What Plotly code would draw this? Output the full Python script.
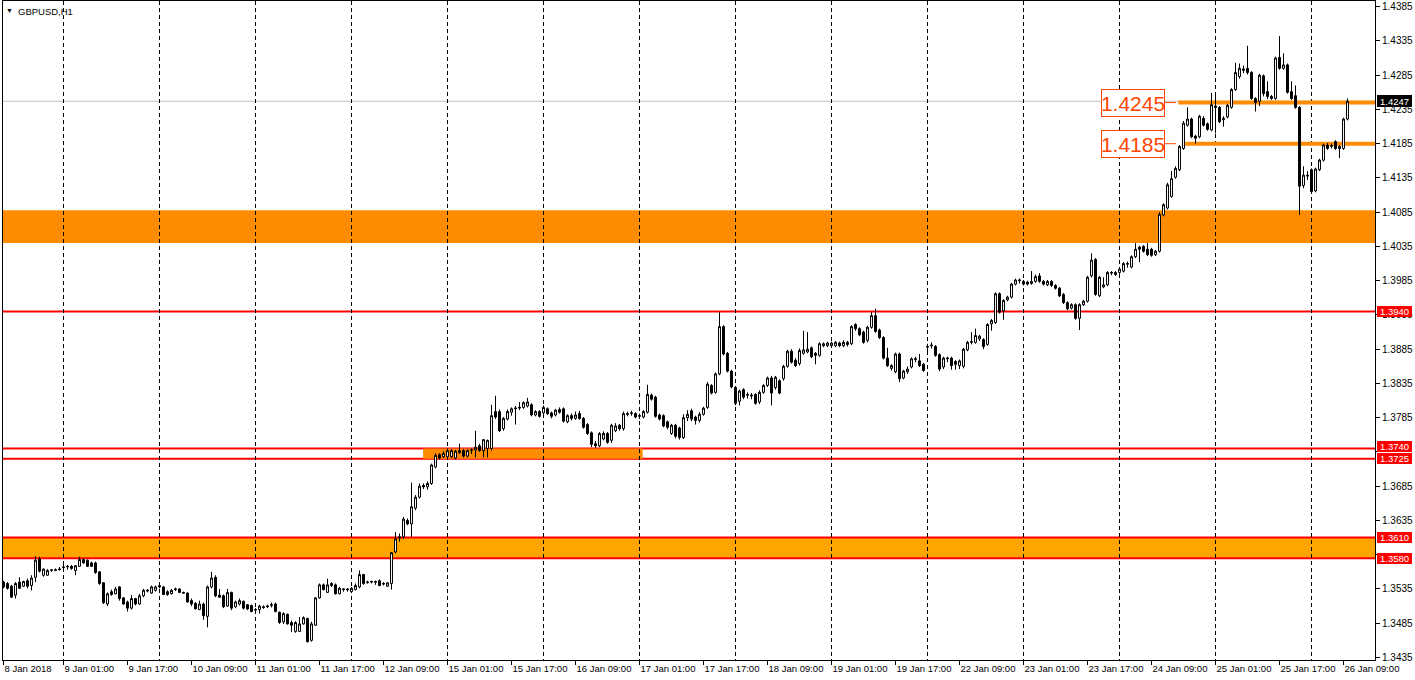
import plotly.graph_objects as go

# ---------------- data ----------------
opens = [
    1.3545, 1.3543, 1.3539, 1.3526, 1.3545, 1.3539, 1.3547, 1.3540, 1.3552, 1.3579,
    1.3555, 1.3555, 1.3562, 1.3562, 1.3563, 1.3566, 1.3567, 1.3568, 1.3562, 1.3568,
    1.3578, 1.3577, 1.3573, 1.3573, 1.3560, 1.3544, 1.3513, 1.3531, 1.3528, 1.3538,
    1.3522, 1.3516, 1.3507, 1.3521, 1.3513, 1.3525, 1.3532, 1.3529, 1.3533, 1.3540,
    1.3538, 1.3531, 1.3528, 1.3534, 1.3535, 1.3530, 1.3529, 1.3518, 1.3514, 1.3505,
    1.3513, 1.3495, 1.3538, 1.3552, 1.3526, 1.3525, 1.3510, 1.3530, 1.3509, 1.3513,
    1.3517, 1.3512, 1.3511, 1.3504, 1.3505, 1.3509, 1.3509, 1.3511, 1.3513, 1.3501,
    1.3487, 1.3498, 1.3486, 1.3473, 1.3473, 1.3484, 1.3492, 1.3460, 1.3482, 1.3522,
    1.3541, 1.3530, 1.3540, 1.3541, 1.3528, 1.3534, 1.3535, 1.3531, 1.3534, 1.3538,
    1.3556, 1.3544, 1.3545, 1.3546, 1.3547, 1.3542, 1.3539, 1.3543, 1.3589, 1.3609,
    1.3611, 1.3635, 1.3630, 1.3653, 1.3669, 1.3686, 1.3684, 1.3689, 1.3713, 1.3731,
    1.3728, 1.3728, 1.3728, 1.3726, 1.3734, 1.3737, 1.3729, 1.3737, 1.3738, 1.3744,
    1.3737, 1.3740, 1.3740, 1.3794, 1.3794, 1.3769, 1.3783, 1.3793, 1.3798, 1.3799,
    1.3800, 1.3802, 1.3804, 1.3789, 1.3794, 1.3792, 1.3798, 1.3792, 1.3789, 1.3797,
    1.3798, 1.3779, 1.3788, 1.3784, 1.3791, 1.3784, 1.3775, 1.3763, 1.3747, 1.3744,
    1.3754, 1.3762, 1.3752, 1.3766, 1.3774, 1.3769, 1.3791, 1.3791, 1.3791, 1.3787,
    1.3786, 1.3793, 1.3818, 1.3815, 1.3789, 1.3788, 1.3779, 1.3762, 1.3774, 1.3770,
    1.3756, 1.3785, 1.3795, 1.3786, 1.3781, 1.3790, 1.3800, 1.3832, 1.3822, 1.3849,
    1.3918, 1.3879, 1.3853, 1.3829, 1.3809, 1.3826, 1.3819, 1.3818, 1.3819, 1.3808,
    1.3822, 1.3832, 1.3843, 1.3829, 1.3839, 1.3842, 1.3860, 1.3882, 1.3869, 1.3864,
    1.3879, 1.3881, 1.3887, 1.3879, 1.3876, 1.3890, 1.3890, 1.3890, 1.3890, 1.3894,
    1.3890, 1.3895, 1.3893, 1.3921, 1.3915, 1.3910, 1.3898, 1.3917, 1.3934, 1.3913,
    1.3902, 1.3872, 1.3857, 1.3852, 1.3878, 1.3843, 1.3852, 1.3859, 1.3870, 1.3868,
    1.3863, 1.3888, 1.3890, 1.3889, 1.3877, 1.3859, 1.3871, 1.3872, 1.3867, 1.3861,
    1.3860, 1.3884, 1.3895, 1.3895, 1.3900, 1.3899, 1.3892, 1.3922, 1.3924, 1.3966,
    1.3941, 1.3957, 1.3961, 1.3980, 1.3985, 1.3984, 1.3983, 1.3981, 1.3984, 1.3992,
    1.3984, 1.3979, 1.3984, 1.3978, 1.3974, 1.3965, 1.3953, 1.3945, 1.3950, 1.3930,
    1.3950, 1.3955, 1.3992, 1.4016, 1.3963, 1.3976, 1.3979, 1.3996, 1.3994, 1.3997,
    1.3999, 1.4009, 1.4005, 1.4020, 1.4034, 1.4035, 1.4031, 1.4031, 1.4023, 1.4028,
    1.4081, 1.4091, 1.4108, 1.4136, 1.4147, 1.4178, 1.4212, 1.4221, 1.4196, 1.4195,
    1.4222, 1.4214, 1.4205, 1.4240, 1.4238, 1.4220, 1.4224, 1.4238, 1.4264, 1.4283,
    1.4292, 1.4295, 1.4289, 1.4251, 1.4247, 1.4284, 1.4261, 1.4254, 1.4251, 1.4311,
    1.4295, 1.4300, 1.4261, 1.4255, 1.4238, 1.4124, 1.4139, 1.4147, 1.4116, 1.4147,
    1.4161, 1.4183, 1.4181, 1.4188, 1.4178, 1.4178, 1.4221,
]
highs = [
    1.3547, 1.3545, 1.3541, 1.3545, 1.3552, 1.3547, 1.3550, 1.3555, 1.3583, 1.3582,
    1.3565, 1.3564, 1.3564, 1.3565, 1.3567, 1.3570, 1.3570, 1.3570, 1.3570, 1.3582,
    1.3580, 1.3578, 1.3575, 1.3575, 1.3561, 1.3545, 1.3530, 1.3534, 1.3538, 1.3539,
    1.3523, 1.3518, 1.3526, 1.3522, 1.3528, 1.3535, 1.3535, 1.3540, 1.3540, 1.3542,
    1.3539, 1.3533, 1.3535, 1.3537, 1.3536, 1.3531, 1.3530, 1.3521, 1.3516, 1.3518,
    1.3515, 1.3540, 1.3560, 1.3555, 1.3535, 1.3527, 1.3535, 1.3531, 1.3518, 1.3521,
    1.3518, 1.3513, 1.3512, 1.3507, 1.3512, 1.3511, 1.3512, 1.3515, 1.3515, 1.3502,
    1.3501, 1.3499, 1.3489, 1.3488, 1.3494, 1.3495, 1.3493, 1.3487, 1.3523, 1.3543,
    1.3543, 1.3550, 1.3545, 1.3543, 1.3538, 1.3536, 1.3536, 1.3538, 1.3543, 1.3562,
    1.3557, 1.3547, 1.3547, 1.3547, 1.3549, 1.3545, 1.3545, 1.3589, 1.3618, 1.3616,
    1.3640, 1.3638, 1.3690, 1.3672, 1.3689, 1.3689, 1.3692, 1.3718, 1.3733, 1.3733,
    1.3736, 1.3740, 1.3739, 1.3738, 1.3747, 1.3739, 1.3739, 1.3740, 1.3766, 1.3747,
    1.3754, 1.3753, 1.3804, 1.3817, 1.3797, 1.3786, 1.3797, 1.3800, 1.3802, 1.3808,
    1.3809, 1.3814, 1.3806, 1.3796, 1.3796, 1.3803, 1.3800, 1.3794, 1.3798, 1.3800,
    1.3800, 1.3790, 1.3791, 1.3794, 1.3795, 1.3786, 1.3777, 1.3765, 1.3751, 1.3764,
    1.3765, 1.3764, 1.3776, 1.3777, 1.3776, 1.3794, 1.3794, 1.3795, 1.3793, 1.3791,
    1.3796, 1.3833, 1.3820, 1.3817, 1.3791, 1.3790, 1.3781, 1.3776, 1.3776, 1.3772,
    1.3790, 1.3796, 1.3798, 1.3788, 1.3793, 1.3801, 1.3837, 1.3834, 1.3851, 1.3939,
    1.3920, 1.3881, 1.3855, 1.3831, 1.3826, 1.3828, 1.3822, 1.3821, 1.3821, 1.3825,
    1.3834, 1.3845, 1.3846, 1.3846, 1.3841, 1.3862, 1.3884, 1.3885, 1.3872, 1.3886,
    1.3912, 1.3910, 1.3889, 1.3881, 1.3895, 1.3895, 1.3896, 1.3896, 1.3897, 1.3896,
    1.3898, 1.3897, 1.3920, 1.3923, 1.3917, 1.3912, 1.3919, 1.3939, 1.3944, 1.3915,
    1.3904, 1.3887, 1.3863, 1.3880, 1.3880, 1.3855, 1.3860, 1.3873, 1.3874, 1.3878,
    1.3865, 1.3893, 1.3895, 1.3891, 1.3879, 1.3874, 1.3874, 1.3874, 1.3869, 1.3870,
    1.3887, 1.3897, 1.3910, 1.3915, 1.3906, 1.3901, 1.3923, 1.3929, 1.3968, 1.3968,
    1.3958, 1.3963, 1.3982, 1.3988, 1.3988, 1.3986, 1.3985, 1.3999, 1.3994, 1.3996,
    1.3986, 1.3986, 1.3986, 1.3980, 1.3976, 1.3967, 1.3955, 1.3952, 1.3952, 1.3952,
    1.3957, 1.3992, 1.4025, 1.4018, 1.3992, 1.3990, 1.3999, 1.3999, 1.3999, 1.4004,
    1.4012, 1.4013, 1.4022, 1.4040, 1.4036, 1.4037, 1.4040, 1.4033, 1.4030, 1.4085,
    1.4098, 1.4128, 1.4145, 1.4152, 1.4183, 1.4218, 1.4238, 1.4223, 1.4198, 1.4227,
    1.4225, 1.4216, 1.4259, 1.4259, 1.4240, 1.4225, 1.4243, 1.4266, 1.4303, 1.4302,
    1.4299, 1.4328, 1.4291, 1.4253, 1.4287, 1.4286, 1.4276, 1.4256, 1.4312, 1.4342,
    1.4317, 1.4302, 1.4276, 1.4270, 1.4240, 1.4152, 1.4145, 1.4149, 1.4150, 1.4163,
    1.4185, 1.4186, 1.4185, 1.4190, 1.4183, 1.4223, 1.4251,
]
lows = [
    1.3536, 1.3534, 1.3522, 1.3521, 1.3535, 1.3538, 1.3536, 1.3533, 1.3545, 1.3559,
    1.3553, 1.3554, 1.3560, 1.3561, 1.3562, 1.3564, 1.3563, 1.3563, 1.3555, 1.3567,
    1.3572, 1.3567, 1.3567, 1.3557, 1.3541, 1.3513, 1.3510, 1.3525, 1.3527, 1.3518,
    1.3512, 1.3502, 1.3505, 1.3511, 1.3512, 1.3523, 1.3530, 1.3528, 1.3531, 1.3536,
    1.3526, 1.3525, 1.3527, 1.3532, 1.3529, 1.3528, 1.3515, 1.3510, 1.3505, 1.3504,
    1.3490, 1.3479, 1.3536, 1.3523, 1.3522, 1.3507, 1.3509, 1.3504, 1.3507, 1.3511,
    1.3505, 1.3504, 1.3501, 1.3502, 1.3499, 1.3506, 1.3507, 1.3508, 1.3501, 1.3484,
    1.3484, 1.3483, 1.3472, 1.3471, 1.3472, 1.3483, 1.3457, 1.3458, 1.3481, 1.3521,
    1.3533, 1.3529, 1.3538, 1.3527, 1.3527, 1.3531, 1.3531, 1.3529, 1.3533, 1.3536,
    1.3541, 1.3543, 1.3543, 1.3541, 1.3539, 1.3540, 1.3538, 1.3534, 1.3587, 1.3604,
    1.3608, 1.3628, 1.3611, 1.3650, 1.3667, 1.3681, 1.3680, 1.3687, 1.3711, 1.3724,
    1.3726, 1.3725, 1.3726, 1.3724, 1.3732, 1.3727, 1.3727, 1.3732, 1.3727, 1.3735,
    1.3727, 1.3727, 1.3737, 1.3783, 1.3764, 1.3766, 1.3781, 1.3788, 1.3775, 1.3796,
    1.3798, 1.3800, 1.3787, 1.3787, 1.3785, 1.3790, 1.3789, 1.3784, 1.3787, 1.3791,
    1.3778, 1.3777, 1.3781, 1.3782, 1.3782, 1.3769, 1.3760, 1.3742, 1.3741, 1.3742,
    1.3752, 1.3747, 1.3748, 1.3764, 1.3766, 1.3766, 1.3787, 1.3788, 1.3784, 1.3783,
    1.3784, 1.3791, 1.3810, 1.3785, 1.3781, 1.3771, 1.3768, 1.3760, 1.3755, 1.3753,
    1.3754, 1.3780, 1.3780, 1.3775, 1.3778, 1.3788, 1.3798, 1.3819, 1.3820, 1.3847,
    1.3876, 1.3851, 1.3828, 1.3803, 1.3803, 1.3812, 1.3813, 1.3812, 1.3804, 1.3805,
    1.3820, 1.3830, 1.3803, 1.3826, 1.3819, 1.3839, 1.3858, 1.3864, 1.3859, 1.3861,
    1.3877, 1.3879, 1.3872, 1.3863, 1.3874, 1.3888, 1.3888, 1.3888, 1.3888, 1.3888,
    1.3888, 1.3889, 1.3891, 1.3912, 1.3904, 1.3893, 1.3895, 1.3915, 1.3909, 1.3900,
    1.3870, 1.3859, 1.3854, 1.3850, 1.3837, 1.3841, 1.3849, 1.3857, 1.3866, 1.3859,
    1.3852, 1.3882, 1.3886, 1.3874, 1.3853, 1.3856, 1.3866, 1.3855, 1.3855, 1.3856,
    1.3857, 1.3882, 1.3892, 1.3893, 1.3897, 1.3885, 1.3890, 1.3912, 1.3922, 1.3937,
    1.3928, 1.3955, 1.3959, 1.3978, 1.3981, 1.3978, 1.3978, 1.3979, 1.3982, 1.3982,
    1.3978, 1.3977, 1.3976, 1.3972, 1.3961, 1.3951, 1.3942, 1.3943, 1.3928, 1.3913,
    1.3948, 1.3953, 1.3990, 1.3963, 1.3961, 1.3974, 1.3977, 1.3993, 1.3992, 1.3995,
    1.3997, 1.4004, 1.4003, 1.4018, 1.4012, 1.4026, 1.4021, 1.4020, 1.4021, 1.4026,
    1.4079, 1.4089, 1.4106, 1.4134, 1.4145, 1.4176, 1.4210, 1.4193, 1.4185, 1.4193,
    1.4210, 1.4204, 1.4203, 1.4200, 1.4215, 1.4210, 1.4222, 1.4236, 1.4262, 1.4280,
    1.4288, 1.4286, 1.4249, 1.4232, 1.4240, 1.4254, 1.4250, 1.4249, 1.4249, 1.4293,
    1.4293, 1.4258, 1.4249, 1.4236, 1.4081, 1.4120, 1.4132, 1.4113, 1.4114, 1.4145,
    1.4159, 1.4176, 1.4178, 1.4176, 1.4164, 1.4176, 1.4219,
]
closes = [
    1.3538, 1.3536, 1.3523, 1.3543, 1.3536, 1.3546, 1.3539, 1.3551, 1.3577, 1.3561,
    1.3564, 1.3562, 1.3563, 1.3563, 1.3564, 1.3567, 1.3568, 1.3565, 1.3569, 1.3578,
    1.3573, 1.3568, 1.3568, 1.3559, 1.3543, 1.3515, 1.3528, 1.3527, 1.3535, 1.3521,
    1.3513, 1.3507, 1.3521, 1.3513, 1.3525, 1.3533, 1.3533, 1.3538, 1.3538, 1.3538,
    1.3527, 1.3527, 1.3533, 1.3535, 1.3530, 1.3529, 1.3516, 1.3513, 1.3506, 1.3513,
    1.3496, 1.3538, 1.3551, 1.3525, 1.3523, 1.3509, 1.3530, 1.3507, 1.3516, 1.3518,
    1.3507, 1.3506, 1.3502, 1.3505, 1.3510, 1.3508, 1.3510, 1.3512, 1.3502, 1.3486,
    1.3499, 1.3484, 1.3482, 1.3486, 1.3484, 1.3493, 1.3458, 1.3484, 1.3522, 1.3541,
    1.3534, 1.3541, 1.3543, 1.3528, 1.3536, 1.3535, 1.3534, 1.3536, 1.3540, 1.3556,
    1.3543, 1.3545, 1.3546, 1.3545, 1.3540, 1.3543, 1.3544, 1.3588, 1.3608, 1.3611,
    1.3637, 1.3630, 1.3655, 1.3669, 1.3685, 1.3684, 1.3689, 1.3716, 1.3730, 1.3726,
    1.3733, 1.3737, 1.3737, 1.3736, 1.3737, 1.3729, 1.3737, 1.3738, 1.3742, 1.3737,
    1.3753, 1.3752, 1.3788, 1.3786, 1.3766, 1.3784, 1.3794, 1.3798, 1.3799, 1.3800,
    1.3807, 1.3808, 1.3789, 1.3794, 1.3787, 1.3800, 1.3791, 1.3787, 1.3796, 1.3793,
    1.3780, 1.3788, 1.3784, 1.3789, 1.3784, 1.3771, 1.3762, 1.3746, 1.3744, 1.3762,
    1.3762, 1.3749, 1.3774, 1.3773, 1.3769, 1.3791, 1.3790, 1.3792, 1.3786, 1.3788,
    1.3794, 1.3819, 1.3812, 1.3787, 1.3783, 1.3773, 1.3771, 1.3774, 1.3758, 1.3756,
    1.3785, 1.3790, 1.3783, 1.3781, 1.3790, 1.3799, 1.3834, 1.3821, 1.3849, 1.3918,
    1.3878, 1.3853, 1.3830, 1.3806, 1.3824, 1.3815, 1.3818, 1.3817, 1.3806, 1.3822,
    1.3832, 1.3843, 1.3821, 1.3844, 1.3821, 1.3860, 1.3882, 1.3866, 1.3861, 1.3883,
    1.3884, 1.3885, 1.3874, 1.3876, 1.3893, 1.3893, 1.3894, 1.3894, 1.3895, 1.3890,
    1.3895, 1.3892, 1.3918, 1.3915, 1.3906, 1.3895, 1.3917, 1.3934, 1.3911, 1.3902,
    1.3872, 1.3861, 1.3861, 1.3878, 1.3842, 1.3853, 1.3856, 1.3871, 1.3871, 1.3861,
    1.3854, 1.3889, 1.3891, 1.3876, 1.3856, 1.3872, 1.3872, 1.3861, 1.3863, 1.3868,
    1.3885, 1.3895, 1.3896, 1.3905, 1.3904, 1.3889, 1.3921, 1.3927, 1.3966, 1.3939,
    1.3956, 1.3961, 1.3980, 1.3986, 1.3986, 1.3980, 1.3980, 1.3984, 1.3991, 1.3984,
    1.3980, 1.3984, 1.3978, 1.3974, 1.3963, 1.3953, 1.3944, 1.3950, 1.3930, 1.3950,
    1.3955, 1.3990, 1.4015, 1.3965, 1.3990, 1.3979, 1.3997, 1.3997, 1.3997, 1.4002,
    1.4010, 1.4010, 1.4020, 1.4031, 1.4031, 1.4028, 1.4023, 1.4022, 1.4028, 1.4082,
    1.4096, 1.4125, 1.4134, 1.4149, 1.4181, 1.4215, 1.4221, 1.4195, 1.4193, 1.4225,
    1.4212, 1.4206, 1.4242, 1.4238, 1.4217, 1.4222, 1.4241, 1.4264, 1.4289, 1.4295,
    1.4294, 1.4289, 1.4251, 1.4245, 1.4285, 1.4258, 1.4254, 1.4251, 1.4310, 1.4295,
    1.4300, 1.4260, 1.4251, 1.4238, 1.4123, 1.4139, 1.4138, 1.4115, 1.4148, 1.4161,
    1.4183, 1.4178, 1.4182, 1.4178, 1.4181, 1.4221, 1.4247,
]
bars = list(range(len(opens)))

time_labels = ["8 Jan 2018", "9 Jan 01:00", "9 Jan 17:00", "10 Jan 09:00", "11 Jan 01:00",
               "11 Jan 17:00", "12 Jan 09:00", "15 Jan 01:00", "15 Jan 17:00", "16 Jan 09:00",
               "17 Jan 01:00", "17 Jan 17:00", "18 Jan 09:00", "19 Jan 01:00", "19 Jan 17:00",
               "22 Jan 09:00", "23 Jan 01:00", "23 Jan 17:00", "24 Jan 09:00", "25 Jan 01:00",
               "25 Jan 17:00", "26 Jan 09:00"]
time_label_bars = [0, 15, 31, 47, 63, 79, 95, 111, 127, 143, 159, 175, 191, 207, 223,
                   239, 255, 271, 287, 303, 319, 335]
grid_bars = [15, 39, 63, 87, 111, 135, 159, 183, 207, 231, 255, 279, 303, 327]

price_ticks = [1.4385, 1.4335, 1.4285, 1.4235, 1.4185, 1.4135, 1.4085, 1.4035, 1.3985,
               1.3935, 1.3885, 1.3835, 1.3785, 1.3735, 1.3685, 1.3635, 1.3585, 1.3535,
               1.3485, 1.3435]
# ticks whose labels are hidden behind the level tags in the reference
hidden_price_ticks = [1.3735, 1.3585]

red_levels = [1.3940, 1.3740, 1.3725, 1.3610, 1.3580]
red_tag_nudge = [0, 2, 0, 0, 0]
supply_zone = [1.4040, 1.4088]
demand_zone = [1.3580, 1.3610]
box_bars = [104.9, 159.8]
box_prices = [1.3725, 1.3740]
marked_levels = [1.4245, 1.4185]
marked_start_bars = [293.7, 295.4]
bid_price = 1.4247

x_range = [-0.125, 342.875]
y_range = [1.34313, 1.43933]

ORANGE = "#FF8C00"
LIGHT_ORANGE = "#FFA500"
LABEL_RED = "#FF4500"
FONT = "Liberation Sans, Arial, sans-serif"

fig = go.Figure()
fig.add_trace(go.Candlestick(
    x=bars, open=opens, high=highs, low=lows, close=closes,
    increasing=dict(line=dict(color="black", width=1), fillcolor="white"),
    decreasing=dict(line=dict(color="black", width=1), fillcolor="black"),
    whiskerwidth=0, showlegend=False, hoverinfo="skip",
))

shapes = []
shapes.append(dict(type="rect", xref="paper", yref="y", x0=0, x1=1,
                   y0=supply_zone[0], y1=supply_zone[1],
                   fillcolor=ORANGE, line=dict(width=0), layer="below"))
shapes.append(dict(type="rect", xref="paper", yref="y", x0=0, x1=1,
                   y0=demand_zone[0], y1=demand_zone[1],
                   fillcolor=LIGHT_ORANGE, line=dict(width=0), layer="below"))
shapes.append(dict(type="rect", xref="x", yref="y", x0=box_bars[0], x1=box_bars[1],
                   y0=box_prices[0], y1=box_prices[1],
                   fillcolor=ORANGE, line=dict(width=0), layer="below"))
shapes.append(dict(type="line", xref="paper", yref="y", x0=0, x1=1, y0=bid_price, y1=bid_price,
                   line=dict(color="#C0C0C0", width=1), layer="between"))
for lv in red_levels:
    shapes.append(dict(type="line", xref="paper", yref="y", x0=0, x1=1, y0=lv, y1=lv,
                       line=dict(color="#FF0000", width=2), layer="between"))
for lv, st in zip(marked_levels, marked_start_bars):
    shapes.append(dict(type="line", xref="x", yref="y", x0=st, x1=x_range[1], y0=lv, y1=lv,
                       line=dict(color=ORANGE, width=4), layer="between"))

annotations = []
annotations.append(dict(xref="paper", yref="paper", x=0, y=1, xanchor="left", yanchor="top",
                        xshift=1, yshift=-4, text="▼", showarrow=False,
                        font=dict(family=FONT, size=7, color="black")))
annotations.append(dict(xref="paper", yref="paper", x=0, y=1, xanchor="left", yanchor="top",
                        xshift=13, yshift=-3, text="GBPUSD,H1", showarrow=False,
                        font=dict(family=FONT, size=9.5, color="black")))
for lv, nudge in zip(red_levels, red_tag_nudge):
    annotations.append(dict(xref="paper", yref="y", x=1, y=lv, xanchor="left", yanchor="middle",
                            xshift=2, yshift=nudge, text=f"{lv:.4f}", showarrow=False,
                            bgcolor="#FF0000", width=35, height=11, borderpad=0, borderwidth=0,
                            font=dict(family=FONT, size=9.5, color="white")))
annotations.append(dict(xref="paper", yref="y", x=1, y=bid_price, xanchor="left", yanchor="middle",
                        xshift=2, text=f"{bid_price:.4f}", showarrow=False, bgcolor="black",
                        width=35, height=12, borderpad=0, borderwidth=0,
                        font=dict(family=FONT, size=9.5, color="white")))
for lv in marked_levels:
    annotations.append(dict(xref="x", yref="y", x=293.1, y=lv, ax=-43, ay=0,
                            showarrow=True, arrowhead=0, arrowwidth=1, arrowcolor=LABEL_RED,
                            text=f"{lv:.4f}", bordercolor=LABEL_RED, borderwidth=1, borderpad=0,
                            bgcolor="white", width=62, height=26,
                            font=dict(family=FONT, size=21, color=LABEL_RED)))

price_ticktext = ["" if p in hidden_price_ticks else f"{p:.4f}" for p in price_ticks]

fig.update_layout(
    width=1415, height=680,
    margin=dict(l=3, r=40, t=1, b=20),
    paper_bgcolor="white", plot_bgcolor="white",
    shapes=shapes, annotations=annotations,
    showlegend=False,
    xaxis=dict(
        range=x_range, rangeslider=dict(visible=False),
        tickmode="array", tickvals=time_label_bars, ticktext=time_labels,
        ticks="outside", ticklen=4, tickcolor="black", tickwidth=1,
        ticklabelposition="outside right",
        tickfont=dict(family=FONT, size=9.5, color="black"),
        showgrid=False, zeroline=False,
        showline=True, linecolor="black", linewidth=1, mirror=True,
        minor=dict(tickmode="array", tickvals=grid_bars, showgrid=True,
                   gridcolor="black", gridwidth=1, griddash="4px,3px", ticks=""),
        fixedrange=True, automargin=False,
    ),
    yaxis=dict(
        range=y_range, side="right",
        tickmode="array", tickvals=price_ticks, ticktext=price_ticktext,
        ticks="outside", ticklen=4, tickcolor="black", tickwidth=1,
        tickfont=dict(family=FONT, size=10, color="black"),
        showgrid=False, zeroline=False,
        showline=True, linecolor="black", linewidth=1, mirror=True,
        fixedrange=True, automargin=False,
    ),
)

fig.write_html(
    "out.html",
    config={"displayModeBar": False},
    post_script="document.body.style.margin='0px';document.body.style.overflow='hidden';",
)
